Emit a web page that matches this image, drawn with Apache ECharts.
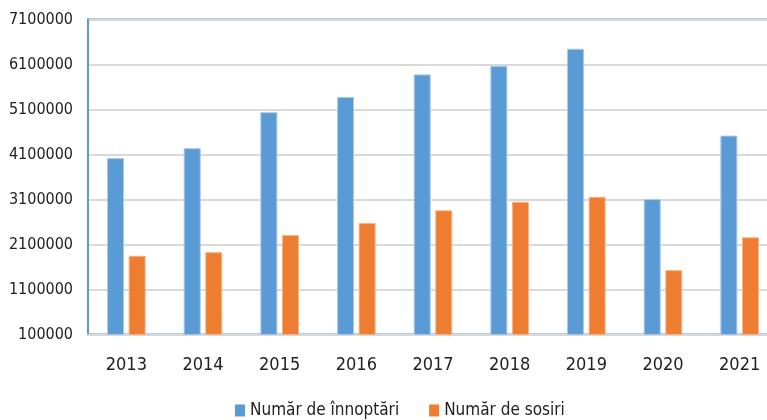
<!DOCTYPE html>
<html>
<head>
<meta charset="utf-8">
<script src="https://cdn.jsdelivr.net/npm/echarts@6/dist/echarts.min.js"></script>
<style>html,body{margin:0;padding:0;background:#fff}#c{width:767px;height:420px}</style>
</head>
<body>
<div id="c"></div>
<script>
const categories = ['2013','2014','2015','2016','2017','2018','2019','2020','2021'];
const innoptari = [4020000, 4240000, 5040000, 5380000, 5880000, 6070000, 6450000, 3110000, 4520000];
const sosiri = [1850000, 1930000, 2310000, 2580000, 2860000, 3050000, 3160000, 1530000, 2260000];
const seriesNames = ['Număr de înnoptări', 'Număr de sosiri'];
const yMin = 100000, yMax = 7100000, yStep = 1000000;

const FONT = '"Liberation Sans Narrow","DejaVu Sans Condensed",sans-serif';
const chart = echarts.init(document.getElementById('c'), null, {renderer: 'canvas'});
chart.setOption({
  animation: false,
  backgroundColor: '#fff',
  grid: {left: 88, top: 19.5, width: 690, bottom: 85.5, containLabel: false, outerBoundsMode: 'none',
         show: true, borderColor: '#5b9bd5', borderWidth: 2, backgroundColor: 'transparent'},
  legend: {
    data: seriesNames, top: 397, left: 230, itemWidth: 10, itemHeight: 12, itemGap: 30,
    icon: 'rect',
    itemStyle: {borderWidth: 0},
    textStyle: {fontFamily: FONT, fontSize: 17, color: '#222'}
  },
  xAxis: {
    type: 'category', data: categories,
    axisLine: {lineStyle: {color: '#d9d9d9', width: 2}},
    axisTick: {show: false},
    axisLabel: {fontFamily: FONT, fontSize: 18, color: '#222', margin: 22}
  },
  yAxis: {
    type: 'value', min: yMin, max: yMax, interval: yStep,
    axisLine: {show: true, lineStyle: {color: '#5b9bd5', width: 2}},
    axisTick: {show: false},
    splitLine: {lineStyle: {color: '#d9d9d9', width: 2}},
    axisLabel: {fontFamily: FONT, fontSize: 16, color: '#222', margin: 15, formatter: v => String(v)}
  },
  series: [
    {name: seriesNames[0], type: 'bar', data: innoptari, barWidth: 17, barGap: '27%',
     itemStyle: {color: '#5b9bd5', borderColor: '#a9c8ea', borderWidth: 1}},
    {name: seriesNames[1], type: 'bar', data: sosiri, barWidth: 17,
     itemStyle: {color: '#ed7d31', borderColor: '#f5b48a', borderWidth: 1}}
  ]
});
</script>
</body>
</html>
